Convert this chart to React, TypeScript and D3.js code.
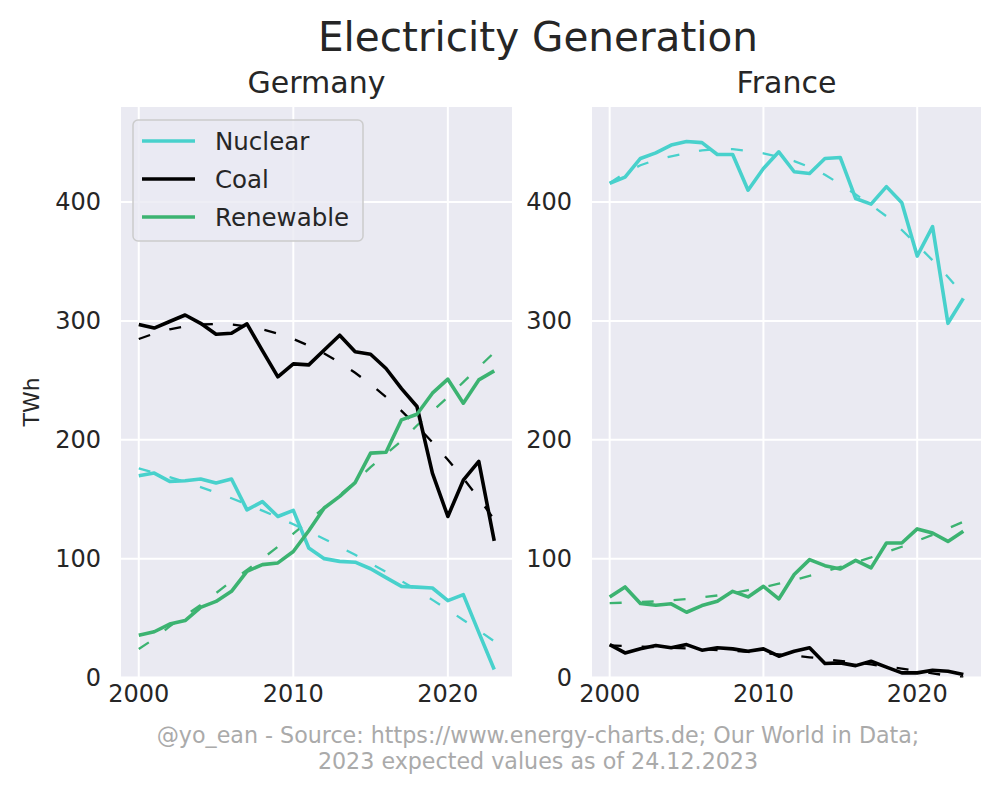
import React from "react";
import * as d3 from "d3";

const years = [2000, 2001, 2002, 2003, 2004, 2005, 2006, 2007, 2008, 2009, 2010, 2011, 2012, 2013, 2014, 2015, 2016, 2017, 2018, 2019, 2020, 2021, 2022, 2023];

const deNuclear = [169.7, 172, 165, 165.5, 167, 163.6, 167, 141, 148, 135.5, 140.6, 109, 100, 97.7, 97, 91.5, 84, 76.7, 76, 75.3, 64.7, 69.7, 38, 6.7];
const deNuclearTrend = [176, 172.4, 168.6, 164.5, 160.2, 155.6, 150.8, 145.7, 140.4, 134.8, 129, 122.9, 116.6, 110, 103.2, 96.1, 88.8, 81.2, 73.4, 65.3, 57, 48.4, 39.6, 30.5];
const deCoal = [297, 294, 299.5, 305, 298, 288.8, 289.7, 297.5, 275, 253, 263.9, 263, 275.6, 288, 274, 272, 260, 243, 228, 172, 135.5, 166, 181.8, 115];
const deCoalTrend = [284.8, 289.4, 292.9, 295.5, 297, 297.5, 297, 295.5, 292.9, 289.4, 284.8, 279.2, 272.6, 265, 256.4, 246.7, 236, 224.3, 211.6, 197.9, 183.2, 167.5, 150.7, 132.9];
const deRenew = [35.6, 38.5, 45, 47.9, 59, 64, 72.5, 89.3, 95, 96.4, 106, 123.5, 142.6, 152.4, 164, 188.8, 189.5, 216.8, 221.5, 239.2, 251, 230.8, 250.4, 258];
const deRenewTrend = [24, 32.5, 43, 52, 61, 71, 81, 90.5, 100, 110, 121, 132, 143, 153.5, 164.5, 177, 188, 199, 212, 224, 236, 248.5, 261, 273.5];

const frNuclear = [415.7, 421, 436.7, 441.4, 448, 451, 450, 440, 440, 410, 428.3, 442.3, 425.5, 424, 436.7, 437.5, 403, 398.3, 413, 399.4, 354.6, 379.3, 298, 319];
const frNuclearTrend = [416, 424.5, 431, 435.5, 438.5, 441, 443.5, 444.5, 444.5, 443, 441, 438, 434.5, 429.5, 423, 415, 406.5, 397.5, 388, 376.5, 364, 351, 337, 322];
const frCoal = [27.7, 20.7, 24.1, 26.9, 25, 27.7, 23, 25, 24.1, 22.1, 24.1, 17.9, 22.1, 25, 11.8, 12.3, 10, 13.7, 8.7, 3.9, 3.9, 6.1, 5.3, 2.5];
const frCoalTrend = [27, 26.5, 26, 25.5, 25, 24.5, 24, 23, 22.5, 21.5, 20.5, 19.5, 18.5, 17, 15.5, 14, 12.5, 11, 9, 7.5, 5.5, 3.5, 1.5, 0];
const frRenew = [67.8, 76.2, 62.2, 60.8, 62, 54.9, 60.5, 64.1, 72.5, 67.8, 76.7, 66.1, 86.6, 99.2, 94.1, 91.3, 98.6, 92.2, 113.2, 113.2, 125, 121.6, 114.5, 123];
const frRenewTrend = [62.5, 63, 63.5, 64, 65, 66, 67.5, 69, 71, 73.5, 76, 79, 82, 85.5, 89, 93, 97, 101, 105.5, 110, 115, 120, 125.5, 131];

const seriesNames = ["Nuclear", "Coal", "Renewable"];
const xTicks = [2000, 2010, 2020];
const yTicks = [0, 100, 200, 300, 400];

const COLORS: Record<string, string> = { Nuclear: "#48D1CC", Coal: "#000000", Renewable: "#3CB371" };
const FONT = "DejaVu Sans, sans-serif";
const TEXT = "#262626";

const Y0 = 107;
const Y1 = 677.5;

function Panel({ id, x0, x1, title, data, legend, yLabel }: any) {
  const x = d3.scaleLinear().domain([1998.85, 2024.15]).range([x0, x1]);
  const y = d3.scaleLinear().domain([0, 480]).range([Y1, Y0]);
  const line = d3
    .line<number>()
    .x((_, i) => x(years[i]))
    .y((v) => y(v));
  return (
    <g>
      <defs>
        <clipPath id={id}>
          <rect x={x0} y={Y0} width={x1 - x0} height={Y1 - Y0} />
        </clipPath>
      </defs>
      <rect x={x0} y={Y0} width={x1 - x0} height={Y1 - Y0} fill="#EAEAF2" />
      {yTicks.map((t) => (
        <line key={"gy" + t} x1={x0} x2={x1} y1={y(t)} y2={y(t)} stroke="#fff" strokeWidth={2} />
      ))}
      {xTicks.map((t) => (
        <line key={"gx" + t} x1={x(t)} x2={x(t)} y1={Y0} y2={Y1} stroke="#fff" strokeWidth={2} />
      ))}
      <g clipPath={`url(#${id})`}>
        {data.map((s: any) => (
          <path key={s.name + "t"} d={line(s.trend) || ""} fill="none" stroke={COLORS[s.name]} strokeWidth={2.3} strokeDasharray="12,20" />
        ))}
        {data.map((s: any) => (
          <path key={s.name} d={line(s.values) || ""} fill="none" stroke={COLORS[s.name]} strokeWidth={3.6} strokeLinejoin="round" />
        ))}
      </g>
      {yTicks.map((t) => (
        <text key={"ty" + t} x={x0 - 20} y={y(t)} dy="0.35em" textAnchor="end" fontSize={24} fill={TEXT} fontFamily={FONT}>
          {t}
        </text>
      ))}
      {xTicks.map((t) => (
        <text key={"tx" + t} x={x(t)} y={Y1 + 16} dy="0.35em" textAnchor="middle" fontSize={24} fill={TEXT} fontFamily={FONT}>
          {t}
        </text>
      ))}
      <text x={(x0 + x1) / 2} y={82} dy="0.35em" textAnchor="middle" fontSize={30} fill={TEXT} fontFamily={FONT}>
        {title}
      </text>
      {yLabel && (
        <text transform={`translate(31,402) rotate(-90)`} dy="0.35em" textAnchor="middle" fontSize={22} fill={TEXT} fontFamily={FONT}>
          {yLabel}
        </text>
      )}
      {legend && (
        <g>
          <rect x={133} y={120} width={230} height={121} rx={5} fill="#EAEAF2" fillOpacity={0.8} stroke="#cccccc" strokeWidth={1.5} />
          {seriesNames.map((n, i) => (
            <g key={n}>
              <line x1={142} x2={195} y1={141 + i * 38} y2={141 + i * 38} stroke={COLORS[n]} strokeWidth={3.6} />
              <text x={215} y={141 + i * 38} dy="0.35em" fontSize={24.5} fill={TEXT} fontFamily={FONT}>
                {n}
              </text>
            </g>
          ))}
        </g>
      )}
    </g>
  );
}

export default function App() {
  const de = [
    { name: "Nuclear", values: deNuclear, trend: deNuclearTrend },
    { name: "Coal", values: deCoal, trend: deCoalTrend },
    { name: "Renewable", values: deRenew, trend: deRenewTrend },
  ];
  const fr = [
    { name: "Nuclear", values: frNuclear, trend: frNuclearTrend },
    { name: "Coal", values: frCoal, trend: frCoalTrend },
    { name: "Renewable", values: frRenew, trend: frRenewTrend },
  ];
  return (
    <svg width={1000} height={790} style={{ position: "absolute", left: 0, top: 0, background: "#fff" }}>
      <rect width={1000} height={790} fill="#fff" />
      <text x={538} y={37} dy="0.35em" textAnchor="middle" fontSize={40.5} fill={TEXT} fontFamily={FONT}>
        Electricity Generation
      </text>
      <Panel id="clipDE" x0={121} x1={512} title="Germany" data={de} legend yLabel="TWh" />
      <Panel id="clipFR" x0={592} x1={981} title="France" data={fr} />
      <text x={538} y={735} dy="0.35em" textAnchor="middle" fontSize={22.2} fill="#AAAAAA" fontFamily={FONT}>
        @yo_ean - Source: https://www.energy-charts.de; Our World in Data;
      </text>
      <text x={538} y={761} dy="0.35em" textAnchor="middle" fontSize={22.2} fill="#AAAAAA" fontFamily={FONT}>
        2023 expected values as of 24.12.2023
      </text>
    </svg>
  );
}
